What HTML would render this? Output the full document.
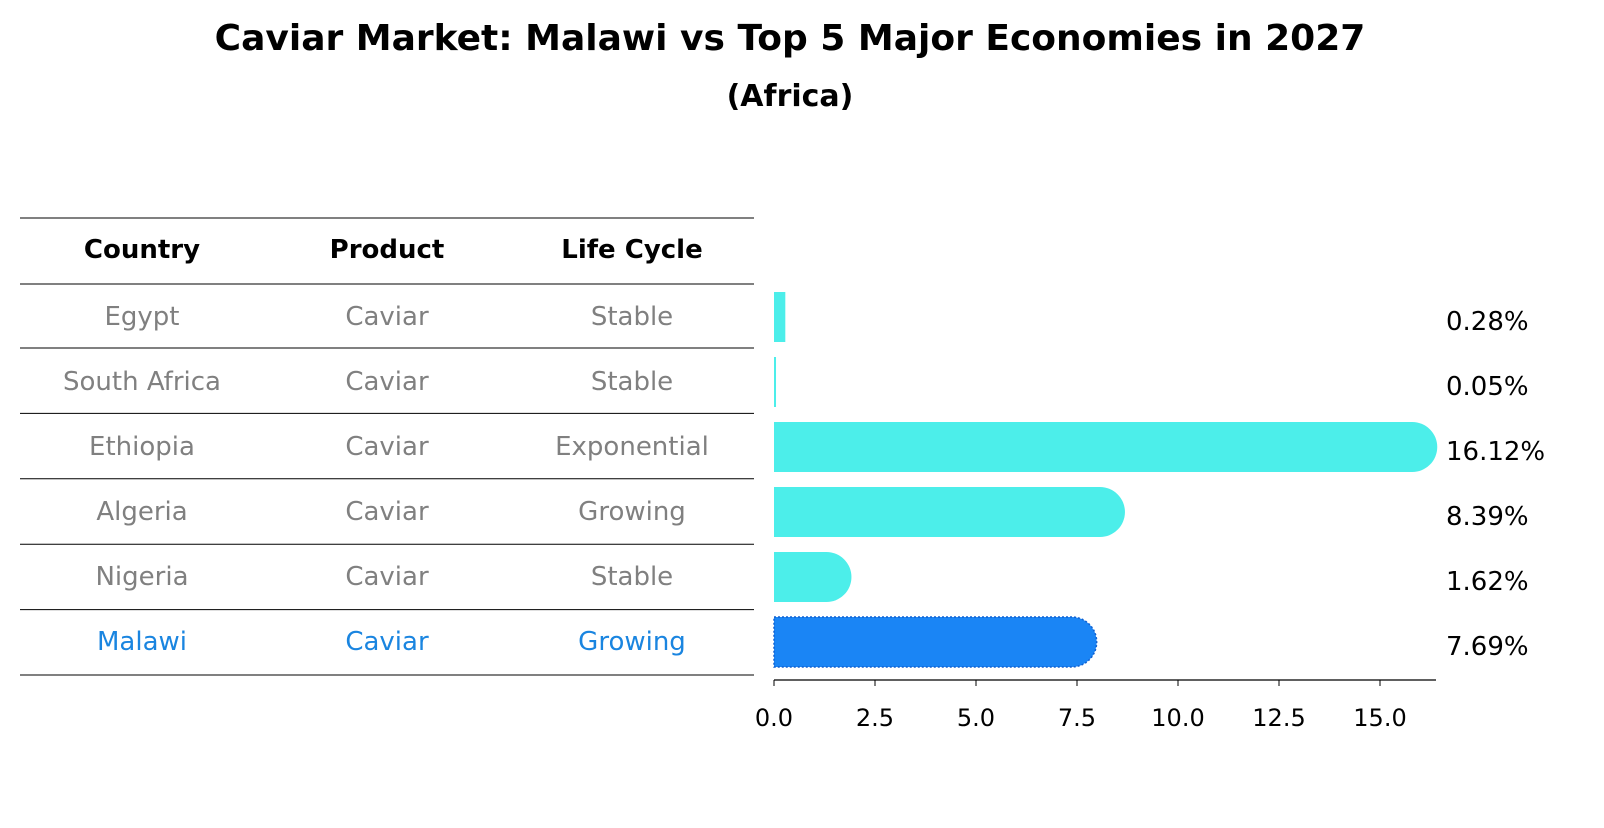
<!DOCTYPE html>
<html><head><meta charset="utf-8"><style>
body{margin:0;background:#fff;font-family:"Liberation Sans","DejaVu Sans",sans-serif;}
svg text{font-family:"DejaVu Sans","Liberation Sans",sans-serif;}
</style></head><body>
<svg id="c" width="1604" height="823" xmlns="http://www.w3.org/2000/svg">
<rect width="1604" height="823" fill="#fff"/>
<text x="790" y="50" text-anchor="middle" font-size="36" font-weight="bold">Caviar Market: Malawi vs Top 5 Major Economies in 2027</text>
<text x="790" y="106" text-anchor="middle" font-size="30" font-weight="bold">(Africa)</text>
<g id="tbl"></g>
<g id="bars"></g>
</svg>
<script>
const countries=["Egypt","South Africa","Ethiopia","Algeria","Nigeria","Malawi"];
const products=["Caviar","Caviar","Caviar","Caviar","Caviar","Caviar"];
const lifecycles=["Stable","Stable","Exponential","Growing","Stable","Growing"];
const values=[0.28,0.05,16.12,8.39,1.62,7.69];
const ticks=[0,2.5,5,7.5,10,12.5,15];
const NS="http://www.w3.org/2000/svg";
function mk(t,a,p){const e=document.createElementNS(NS,t);for(const k in a)e.setAttribute(k,a[k]);p.appendChild(e);return e;}
const tbl=document.getElementById('tbl'),bars=document.getElementById('bars');
const x0=774,sc=(1380-774)/15;
const xs=v=>x0+v*sc;
const rowY=i=>317+i*65;
const lineYs=[218,284];
for(let i=0;i<countries.length;i++)lineYs.push(348+i*65.4);
lineYs.forEach((y,i)=>{const l=mk('line',{x1:20,x2:754,y1:y,y2:y,stroke:'#000','stroke-width':1},tbl);

});
const cx=[142,387,632];
["Country","Product","Life Cycle"].forEach((h,j)=>{const t=mk('text',{x:cx[j],y:258,'text-anchor':'middle','font-size':26,'font-weight':'bold'},tbl);t.textContent=h;

});
countries.forEach((c,i)=>{const isM=i===countries.length-1;const col=isM?'#1a85e0':'#808080';
[c,products[i],lifecycles[i]].forEach((s,j)=>{const t=mk('text',{x:cx[j],y:rowY(i)+8,'text-anchor':'middle','font-size':26,fill:col},tbl);t.textContent=s;

});
const v=values[i],xe=xs(v),cy=rowY(i),h=50,fill=isM?'#1a85f5':'#4ceeea';
const g=mk('g',{},bars);


const w=Math.max(xe-x0,1.5);
if(v>1){const r=25,s=xe-13;
mk('path',{d:`M${x0},${cy-h/2} L${s},${cy-h/2} A${r},${h/2} 0 0 1 ${s},${cy+h/2} L${x0},${cy+h/2} Z`,fill:fill,stroke:isM?'#1060d0':'none','stroke-dasharray':isM?'2,2':'none','stroke-width':isM?1.5:0},g);
}else mk('rect',{x:x0,y:cy-h/2,width:w,height:h,fill:fill},g);
const lb=mk('text',{x:1446,y:cy+13,'font-size':26},bars);lb.textContent=v.toFixed(2)+'%';

});
const ax=mk('line',{x1:x0,x2:1436,y1:680,y2:680,stroke:'#000','stroke-width':1.2},bars);


ticks.forEach(t=>{const x=xs(t);mk('line',{x1:x,x2:x,y1:680,y2:686,stroke:'#000'},bars);
const tx=mk('text',{x:x,y:726,'text-anchor':'middle','font-size':24},bars);tx.textContent=t.toFixed(1);

});
</script>
</body></html>
